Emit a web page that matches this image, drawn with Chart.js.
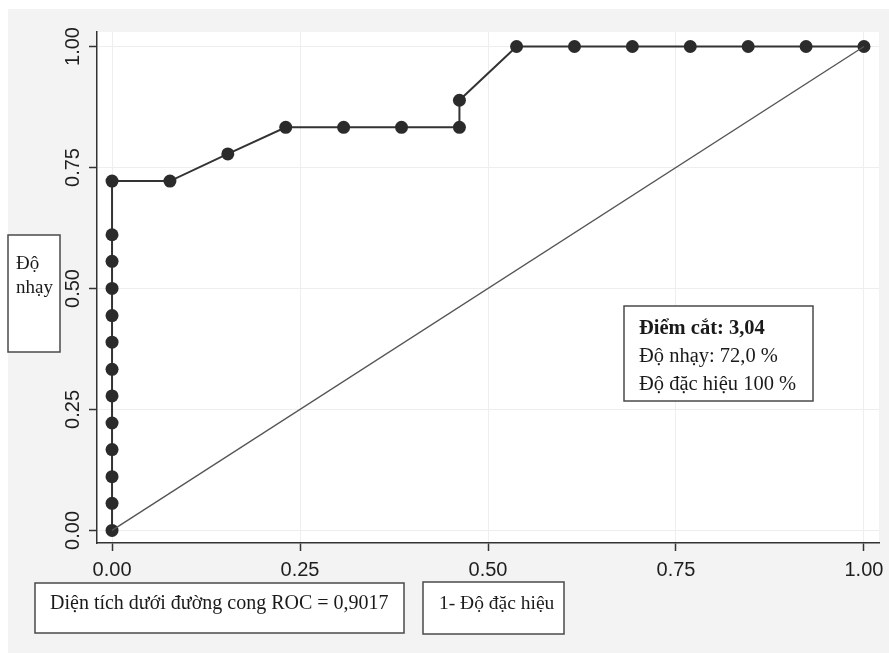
<!DOCTYPE html>
<html>
<head>
<meta charset="utf-8">
<script src="https://cdn.jsdelivr.net/npm/chart.js@4/dist/chart.umd.min.js"></script>
<style>
  html, body { margin: 0; padding: 0; background: #fff; }
  #rocChart { display: block; }
</style>
</head>
<body>
<canvas id="rocChart" width="889" height="653"></canvas>
<script>
// 1 - specificity (x) and sensitivity (y)
const fprValues = [0, 0, 0, 0, 0, 0, 0, 0, 0, 0, 0, 0, 0,
    0.077, 0.154, 0.231, 0.308, 0.385, 0.462, 0.462,
    0.538, 0.615, 0.692, 0.769, 0.846, 0.923, 1.00];
const tprValues = [0, 0.056, 0.111, 0.167, 0.222, 0.278, 0.333, 0.389, 0.444, 0.500, 0.556, 0.611, 0.722,
    0.722, 0.778, 0.833, 0.833, 0.833, 0.833, 0.889,
    1.00, 1.00, 1.00, 1.00, 1.00, 1.00, 1.00];

// reference (chance) line
const refLineX = [0, 1];
const refLineY = [0, 1];

const tickValues = [0, 0.25, 0.5, 0.75, 1];

const yTitleLines = ['Độ', 'nhạy'];
const aucLabel = 'Diện tích dưới đường cong ROC = 0,9017';
const xTitle = '1- Độ đặc hiệu';
const cutoffLines = ['Điểm cắt: 3,04', 'Độ nhạy: 72,0 %', 'Độ đặc hiệu 100 %'];

const SANS = '"Liberation Sans", Arial, Helvetica, sans-serif';
const SERIF = '"Liberation Serif", "Times New Roman", serif';

function toPoints(xs, ys) {
    return xs.map((x, i) => ({ x: x, y: ys[i] }));
}

function drawBox(ctx, x, y, w, h) {
    ctx.fillStyle = '#ffffff';
    ctx.fillRect(x, y, w, h);
    ctx.strokeStyle = '#4a4a4a';
    ctx.lineWidth = 1.5;
    ctx.strokeRect(x, y, w, h);
}

const stataFrame = {
    id: 'stataFrame',
    beforeDraw(chart) {
        const ctx = chart.ctx;
        const a = chart.chartArea;
        ctx.save();
        ctx.fillStyle = '#ffffff';
        ctx.fillRect(0, 0, chart.width, chart.height);
        ctx.fillStyle = '#f3f3f3';
        ctx.fillRect(8, 9, chart.width - 8, chart.height - 9);
        ctx.fillStyle = '#ffffff';
        ctx.fillRect(a.left, a.top, a.right - a.left, a.bottom - a.top);
        ctx.restore();
    },
    afterDraw(chart) {
        const ctx = chart.ctx;
        ctx.save();
        ctx.textBaseline = 'middle';
        ctx.textAlign = 'left';

        // y title box
        drawBox(ctx, 8, 235, 52, 117);
        ctx.fillStyle = '#1a1a1a';
        ctx.font = '19px ' + SERIF;
        ctx.fillText(yTitleLines[0], 16, 264);
        ctx.fillText(yTitleLines[1], 16, 288);

        // AUC box
        drawBox(ctx, 35, 583, 369, 50);
        ctx.fillStyle = '#1a1a1a';
        ctx.font = '20px ' + SERIF;
        ctx.fillText(aucLabel, 50, 604);

        // x title box
        drawBox(ctx, 423, 582, 141, 52);
        ctx.fillStyle = '#1a1a1a';
        ctx.font = '19.5px ' + SERIF;
        ctx.fillText(xTitle, 439, 604);

        // cut-off box
        drawBox(ctx, 624, 306, 189, 95);
        ctx.fillStyle = '#1a1a1a';
        ctx.font = 'bold 20.5px ' + SERIF;
        ctx.fillText(cutoffLines[0], 639, 329);
        ctx.font = '20.5px ' + SERIF;
        ctx.fillText(cutoffLines[1], 639, 357);
        ctx.fillText(cutoffLines[2], 639, 385);
        ctx.restore();
    }
};

const fixTicks = scale => {
    scale.ticks = tickValues.map(v => ({ value: v }));
};

const ctx = document.getElementById('rocChart').getContext('2d');
const rocChart = new Chart(ctx, {
    type: 'scatter',
    data: {
        datasets: [{
            label: 'Chance',
            data: toPoints(refLineX, refLineY),
            showLine: true,
            borderColor: '#555555',
            borderWidth: 1.4,
            pointRadius: 0,
            order: 0
        }, {
            label: 'ROC',
            data: toPoints(fprValues, tprValues),
            showLine: true,
            borderColor: '#333333',
            borderWidth: 2,
            pointRadius: 6.5,
            pointBackgroundColor: '#2b2b2b',
            pointBorderColor: '#2b2b2b',
            pointBorderWidth: 0,
            order: 1
        }]
    },
    options: {
        responsive: false,
        animation: false,
        devicePixelRatio: 1,
        layout: { padding: { left: 0, top: 32, right: 10, bottom: 0 } },
        plugins: {
            legend: { display: false },
            tooltip: { enabled: false }
        },
        scales: {
            x: {
                type: 'linear',
                min: -0.02,
                max: 1.02,
                afterBuildTicks: fixTicks,
                afterFit: s => {
                    s.height = 110;
                    s.paddingLeft = 0;
                    s.paddingRight = 0;
                },
                grid: { color: '#eeeeee', lineWidth: 1, tickLength: 8, tickColor: '#333333', tickWidth: 1.5 },
                border: { color: '#333333', width: 1.5 },
                ticks: {
                    font: { family: SANS, size: 20 },
                    color: '#1e1e1e',
                    padding: 7,
                    maxRotation: 0,
                    callback: v => v.toFixed(2)
                }
            },
            y: {
                type: 'linear',
                min: -0.026,
                max: 1.03,
                afterBuildTicks: fixTicks,
                afterFit: s => {
                    s.width = 97;
                    s.paddingTop = 0;
                    s.paddingBottom = 0;
                },
                grid: { color: '#eeeeee', lineWidth: 1, tickLength: 8, tickColor: '#333333', tickWidth: 1.5 },
                border: { color: '#333333', width: 1.5 },
                ticks: {
                    font: { family: SANS, size: 20 },
                    color: '#1e1e1e',
                    padding: -4,
                    minRotation: 90,
                    maxRotation: 90,
                    crossAlign: 'center',
                    callback: v => v.toFixed(2)
                }
            }
        }
    },
    plugins: [stataFrame]
});
</script>
</body>
</html>
